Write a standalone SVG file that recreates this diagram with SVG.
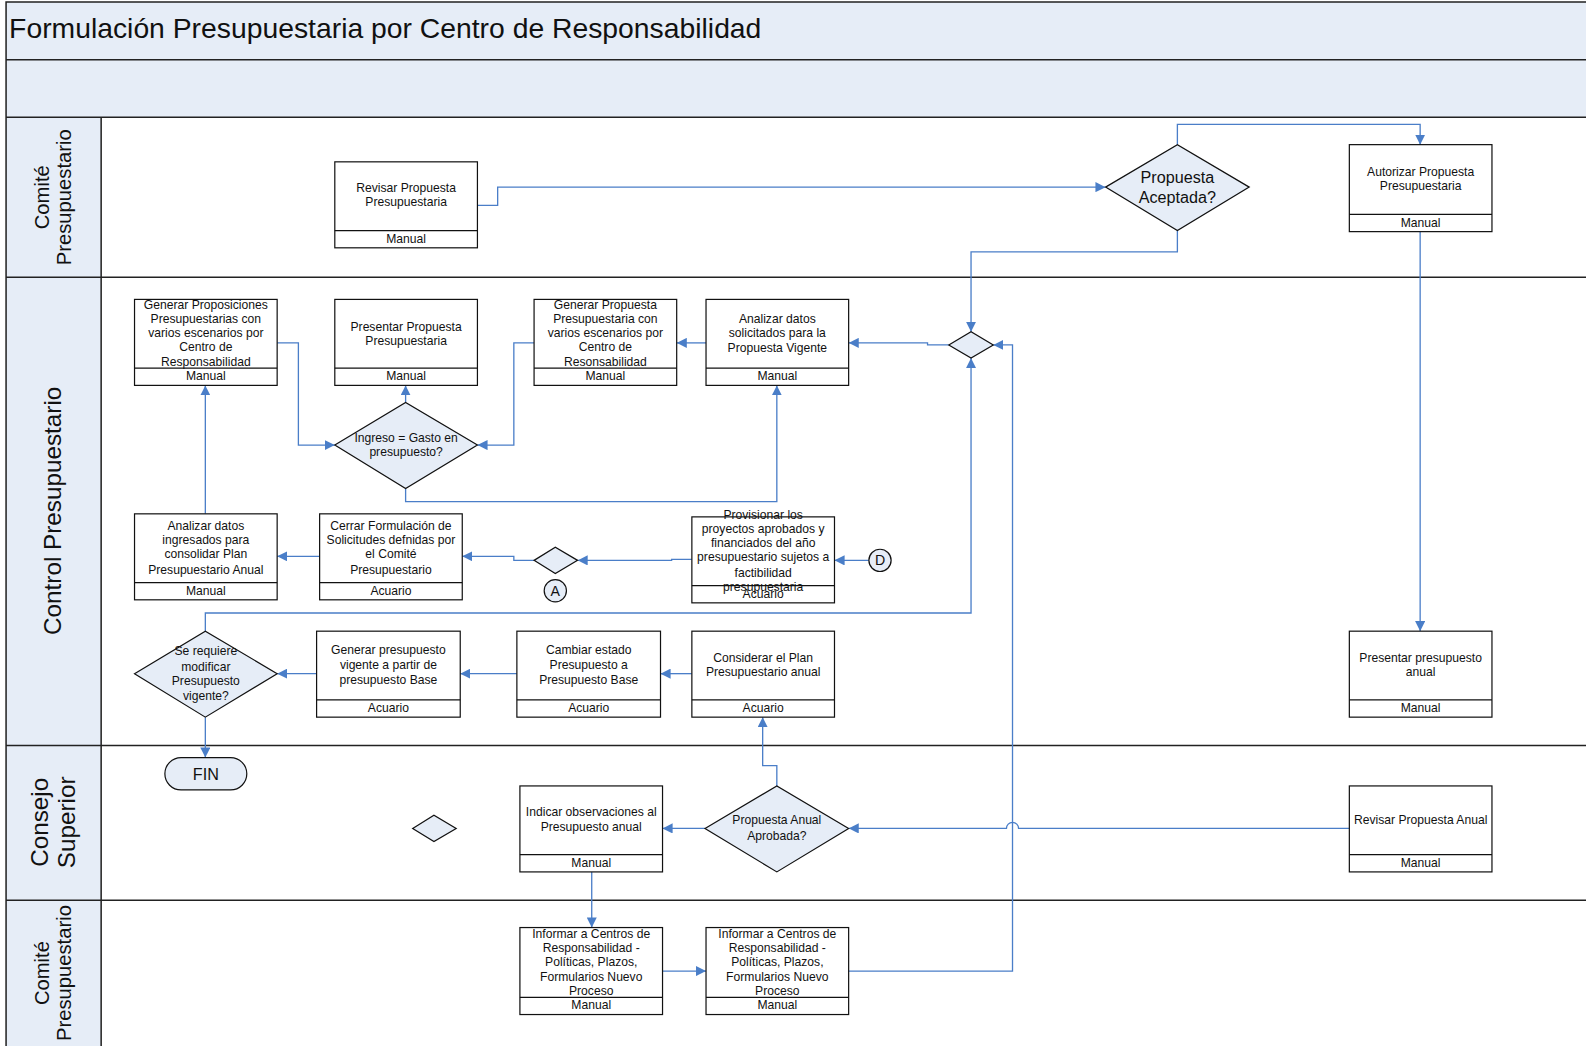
<svg xmlns="http://www.w3.org/2000/svg" width="1586" height="1046" viewBox="0 0 1586 1046">
<style>
.lane{fill:#E6EDF7;stroke:none}
.ln{stroke:#222;stroke-width:1.5;fill:none}
.box{fill:#fff;stroke:#111;stroke-width:1.2}
.dia{fill:#E6EDF7;stroke:#111;stroke-width:1.2}
.t{font-family:"Liberation Sans",Arial,sans-serif;font-size:12px;fill:#111;text-anchor:middle}
.tl{font-family:"Liberation Sans",Arial,sans-serif;font-size:16px;fill:#111;text-anchor:middle}
.lt{font-family:"Liberation Sans",Arial,sans-serif;font-size:20px;fill:#111;text-anchor:middle}
.lb{font-family:"Liberation Sans",Arial,sans-serif;font-size:24px;fill:#111;text-anchor:middle}
.c{fill:none;stroke:#4A7EC8;stroke-width:1.3;marker-end:url(#ah)}
</style>
<defs>
<marker id="ah" viewBox="0 0 10 10" refX="10" refY="5" markerWidth="10" markerHeight="10" markerUnits="userSpaceOnUse" orient="auto">
<path d="M0,0 L10,5 L0,10 z" fill="#4A7EC8"/>
</marker>
</defs>
<rect width="1586" height="1046" fill="#fff"/>
<g id="diagram" transform="scale(1.0115)">
<g id="lanes">
<rect class="lane" x="6" y="2" width="1580" height="114"/>
<rect class="lane" x="6" y="116" width="94" height="930"/>
<path class="ln" d="M1586,2 H6 V1046 M6,59 H1586 M6,116 H1586 M6,274 H1586 M6,737 H1586 M6,890 H1586 M100,116 V1046"/>
<text x="9" y="38" font-family="Liberation Sans,Arial,sans-serif" font-size="28" fill="#111">Formulación Presupuestaria por Centro de Responsabilidad</text>
<text class="lt" transform="translate(48,195) rotate(-90)">Comité</text>
<text class="lt" transform="translate(70,195) rotate(-90)">Presupuestario</text>
<text class="lb" transform="translate(60,505) rotate(-90)">Control Presupuestario</text>
<text class="lb" transform="translate(47,813) rotate(-90)">Consejo</text>
<text class="lb" transform="translate(74,813) rotate(-90)">Superior</text>
<text class="lt" transform="translate(48,962) rotate(-90)">Comité</text>
<text class="lt" transform="translate(70,962) rotate(-90)">Presupuestario</text>
</g>
<g id="connectors">
<path class="c" d="M472,203 H492 V185 H1093"/>
<path class="c" d="M1164,143 V123 H1404 V143"/>
<path class="c" d="M1164,228 V249 H960 V328"/>
<path class="c" d="M1404,229 V624"/>
<path class="c" d="M938,341 H917 V339 H839"/>
<path class="c" d="M698,339 H669"/>
<path class="c" d="M528,339 H508 V440 H472"/>
<path class="c" d="M274,339 H295 V440 H331"/>
<path class="c" d="M401,398 V381"/>
<path class="c" d="M401,483 V496 H768 V381"/>
<path class="c" d="M203,508 V381"/>
<path class="c" d="M316,550 H274"/>
<path class="c" d="M528,554 H508 V550 H457"/>
<path class="c" d="M684,553 H664 V554 H571"/>
<path class="c" d="M859,554 H825"/>
<path class="c" d="M203,624 V606 H960 V354"/>
<path class="c" d="M313,666 H274"/>
<path class="c" d="M511,666 H455"/>
<path class="c" d="M684,666 H653"/>
<path class="c" d="M203,709 V749"/>
<path class="c" d="M768,777 V757 H754 V709"/>
<path class="c" d="M697,819 H655"/>
<path class="c" d="M1334,819 H1007 A6,6 0 0 0 995,819 H839"/>
<path class="c" d="M585,862 V917"/>
<path class="c" d="M655,960 H698"/>
<path class="c" d="M839,960 H1001 V341 H982"/>
</g>
<g id="revisar-propuesta">
<rect class="box" x="331" y="160" width="141" height="85"/><path class="box" d="M331,228 H472"/>
<text class="t" x="401.5" y="190">Revisar Propuesta</text><text class="t" x="401.5" y="204">Presupuestaria</text>
<text class="t" x="401.5" y="240">Manual</text>
</g>
<g id="propuesta-aceptada">
<path class="dia" d="M1093,185 L1164,143 L1235,185 L1164,228 z"/>
<text class="tl" x="1164" y="181">Propuesta</text><text class="tl" x="1164" y="201">Aceptada?</text>
</g>
<g id="autorizar">
<rect class="box" x="1334" y="143" width="141" height="86"/><path class="box" d="M1334,212 H1475"/>
<text class="t" x="1404.5" y="174">Autorizar Propuesta</text><text class="t" x="1404.5" y="188">Presupuestaria</text>
<text class="t" x="1404.5" y="224">Manual</text>
</g>
<g id="generar-proposiciones">
<rect class="box" x="133" y="296" width="141" height="85"/><path class="box" d="M133,364 H274"/>
<text class="t" x="203.5" y="305">Generar Proposiciones</text><text class="t" x="203.5" y="319">Presupuestarias con</text><text class="t" x="203.5" y="333">varios escenarios por</text><text class="t" x="203.5" y="347">Centro de</text><text class="t" x="203.5" y="362">Responsabilidad</text>
<text class="t" x="203.5" y="376">Manual</text>
</g>
<g id="presentar-propuesta">
<rect class="box" x="331" y="296" width="141" height="85"/><path class="box" d="M331,364 H472"/>
<text class="t" x="401.5" y="327">Presentar Propuesta</text><text class="t" x="401.5" y="341">Presupuestaria</text>
<text class="t" x="401.5" y="376">Manual</text>
</g>
<g id="generar-propuesta">
<rect class="box" x="528" y="296" width="141" height="85"/><path class="box" d="M528,364 H669"/>
<text class="t" x="598.5" y="305">Generar Propuesta</text><text class="t" x="598.5" y="319">Presupuestaria con</text><text class="t" x="598.5" y="333">varios escenarios por</text><text class="t" x="598.5" y="347">Centro de</text><text class="t" x="598.5" y="362">Resonsabilidad</text>
<text class="t" x="598.5" y="376">Manual</text>
</g>
<g id="analizar-solicitados">
<rect class="box" x="698" y="296" width="141" height="85"/><path class="box" d="M698,364 H839"/>
<text class="t" x="768.5" y="319">Analizar datos</text><text class="t" x="768.5" y="333">solicitados para la</text><text class="t" x="768.5" y="348">Propuesta Vigente</text>
<text class="t" x="768.5" y="376">Manual</text>
</g>
<g id="union">
<path class="dia" d="M938,341 L960,328 L982,341 L960,354 z"/>
</g>
<g id="ingreso-gasto">
<path class="dia" d="M331,440 L401,398 L472,440 L401,483 z"/>
<text class="t" x="401.5" y="437">Ingreso = Gasto en</text><text class="t" x="401.5" y="451">presupuesto?</text>
</g>
<g id="analizar-ingresados">
<rect class="box" x="133" y="508" width="141" height="85"/><path class="box" d="M133,576 H274"/>
<text class="t" x="203.5" y="524">Analizar datos</text><text class="t" x="203.5" y="538">ingresados para</text><text class="t" x="203.5" y="552">consolidar Plan</text><text class="t" x="203.5" y="567">Presupuestario Anual</text>
<text class="t" x="203.5" y="588">Manual</text>
</g>
<g id="cerrar-formulacion">
<rect class="box" x="316" y="508" width="141" height="85"/><path class="box" d="M316,576 H457"/>
<text class="t" x="386.5" y="524">Cerrar Formulación de</text><text class="t" x="386.5" y="538">Solicitudes defnidas por</text><text class="t" x="386.5" y="552">el Comité</text><text class="t" x="386.5" y="567">Presupuestario</text>
<text class="t" x="386.5" y="588">Acuario</text>
</g>
<g id="decision-a">
<path class="dia" d="M528,554 L549,541 L571,554 L549,567 z"/>
</g>
<g id="conector-a">
<circle cx="549" cy="584" r="11" fill="#E6EDF7" stroke="#111" stroke-width="1.2"/>
<text class="t" style="font-size:14px" x="549" y="589">A</text>
</g>
<g id="provisionar">
<rect class="box" x="684" y="511" width="141" height="85"/><path class="box" d="M684,579 H825"/>
<text class="t" x="754.5" y="513">Provisionar los</text><text class="t" x="754.5" y="527">proyectos aprobados y</text><text class="t" x="754.5" y="541">financiados del año</text><text class="t" x="754.5" y="555">presupuestario sujetos a</text><text class="t" x="754.5" y="570">factibilidad</text><text class="t" x="754.5" y="584">presupuestaria</text>
<text class="t" x="754.5" y="591">Acuario</text>
</g>
<g id="conector-d">
<circle cx="870" cy="554" r="11" fill="#E6EDF7" stroke="#111" stroke-width="1.2"/>
<text class="t" style="font-size:14px" x="870" y="559">D</text>
</g>
<g id="se-requiere">
<path class="dia" d="M133,666 L203,624 L274,666 L203,709 z"/>
<text class="t" x="203.5" y="648">Se requiere</text><text class="t" x="203.5" y="663">modificar</text><text class="t" x="203.5" y="677">Presupuesto</text><text class="t" x="203.5" y="692">vigente?</text>
</g>
<g id="generar-vigente">
<rect class="box" x="313" y="624" width="142" height="85"/><path class="box" d="M313,692 H455"/>
<text class="t" x="384" y="647">Generar presupuesto</text><text class="t" x="384" y="661">vigente a partir de</text><text class="t" x="384" y="676">presupuesto Base</text>
<text class="t" x="384" y="704">Acuario</text>
</g>
<g id="cambiar-estado">
<rect class="box" x="511" y="624" width="142" height="85"/><path class="box" d="M511,692 H653"/>
<text class="t" x="582" y="647">Cambiar estado</text><text class="t" x="582" y="661">Presupuesto a</text><text class="t" x="582" y="676">Presupuesto Base</text>
<text class="t" x="582" y="704">Acuario</text>
</g>
<g id="considerar-plan">
<rect class="box" x="684" y="624" width="141" height="85"/><path class="box" d="M684,692 H825"/>
<text class="t" x="754.5" y="654">Considerar el Plan</text><text class="t" x="754.5" y="668">Presupuestario anual</text>
<text class="t" x="754.5" y="704">Acuario</text>
</g>
<g id="presentar-anual">
<rect class="box" x="1334" y="624" width="141" height="85"/><path class="box" d="M1334,692 H1475"/>
<text class="t" x="1404.5" y="654">Presentar presupuesto</text><text class="t" x="1404.5" y="668">anual</text>
<text class="t" x="1404.5" y="704">Manual</text>
</g>
<g id="fin">
<rect x="163" y="749" width="81" height="32" rx="16" fill="#E6EDF7" stroke="#111" stroke-width="1.2"/>
<text class="tl" x="203.5" y="771">FIN</text>
</g>
<g id="decision-vacia">
<path class="dia" d="M408,819 L429,806 L451,819 L429,832 z"/>
</g>
<g id="indicar-observaciones">
<rect class="box" x="514" y="777" width="141" height="85"/><path class="box" d="M514,845 H655"/>
<text class="t" x="584.5" y="807">Indicar observaciones al</text><text class="t" x="584.5" y="822">Presupuesto anual</text>
<text class="t" x="584.5" y="857">Manual</text>
</g>
<g id="propuesta-anual-aprobada">
<path class="dia" d="M697,819 L768,777 L839,819 L768,862 z"/>
<text class="t" x="768" y="815">Propuesta Anual</text><text class="t" x="768" y="830">Aprobada?</text>
</g>
<g id="revisar-anual">
<rect class="box" x="1334" y="777" width="141" height="85"/><path class="box" d="M1334,845 H1475"/>
<text class="t" x="1404.5" y="815">Revisar Propuesta Anual</text>
<text class="t" x="1404.5" y="857">Manual</text>
</g>
<g id="informar-1">
<rect class="box" x="514" y="917" width="141" height="86"/><path class="box" d="M514,986 H655"/>
<text class="t" x="584.5" y="927">Informar a Centros de</text><text class="t" x="584.5" y="941">Responsabilidad -</text><text class="t" x="584.5" y="955">Políticas, Plazos,</text><text class="t" x="584.5" y="970">Formularios Nuevo</text><text class="t" x="584.5" y="984">Proceso</text>
<text class="t" x="584.5" y="998">Manual</text>
</g>
<g id="informar-2">
<rect class="box" x="698" y="917" width="141" height="86"/><path class="box" d="M698,986 H839"/>
<text class="t" x="768.5" y="927">Informar a Centros de</text><text class="t" x="768.5" y="941">Responsabilidad -</text><text class="t" x="768.5" y="955">Políticas, Plazos,</text><text class="t" x="768.5" y="970">Formularios Nuevo</text><text class="t" x="768.5" y="984">Proceso</text>
<text class="t" x="768.5" y="998">Manual</text>
</g>
</g>
</svg>
